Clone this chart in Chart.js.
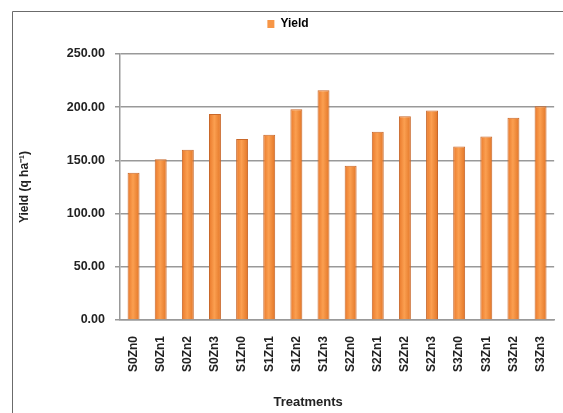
<!DOCTYPE html>
<html>
<head>
<meta charset="utf-8">
<script src="https://cdn.jsdelivr.net/npm/chart.js@4.4.1/dist/chart.umd.min.js"></script>
<style>
  html, body { margin: 0; padding: 0; background: #fff; }
  canvas { display: block; }
</style>
</head>
<body>
<canvas id="yieldChart" width="563" height="413"></canvas>
<script>
var treatments = ["S0Zn0", "S0Zn1", "S0Zn2", "S0Zn3", "S1Zn0", "S1Zn1", "S1Zn2", "S1Zn3",
                  "S2Zn0", "S2Zn1", "S2Zn2", "S2Zn3", "S3Zn0", "S3Zn1", "S3Zn2", "S3Zn3"];
var yieldValues = [138.5, 151, 160, 193.5, 170, 174, 198, 216,
                   145, 177, 191.5, 197, 163, 172.5, 190, 201];
var yTicks = [0, 50, 100, 150, 200, 250];

Chart.defaults.font.family = "'Liberation Sans', Arial, sans-serif";
Chart.defaults.font.weight = "bold";
Chart.defaults.color = "#222";

// gray frame round the whole chart (only top and left show in the crop)
var framePlugin = {
  id: "frame",
  beforeDraw: function (chart) {
    var ctx = chart.ctx;
    ctx.save();
    ctx.strokeStyle = "#6b6b6b";
    ctx.lineWidth = 1;
    ctx.beginPath();
    ctx.moveTo(12.5, 413);
    ctx.lineTo(12.5, 11.5);
    ctx.lineTo(563, 11.5);
    ctx.stroke();
    ctx.restore();
  }
};

// make room under the legend so the plot starts at 250 line
var legendRoom = {
  id: "legendRoom",
  beforeInit: function (chart) {
    var fit = chart.legend.fit;
    chart.legend.fit = function () {
      fit.bind(chart.legend)();
      this.height = 46;
    };
  }
};

function barFill(context) {
  var chart = context.chart;
  if (!chart.chartArea || context.dataIndex === undefined) return "#F79646";
  var x = chart.scales.x.getPixelForValue(context.dataIndex);
  var g = chart.ctx.createLinearGradient(x - 6, 0, x + 6, 0);
  g.addColorStop(0, "#E9782A");
  g.addColorStop(0.45, "#FB9F50");
  g.addColorStop(1, "#E27526");
  return g;
}

new Chart(document.getElementById("yieldChart"), {
  type: "bar",
  data: {
    labels: treatments,
    datasets: [{
      label: "Yield",
      data: yieldValues,
      backgroundColor: barFill,
      borderColor: "#C9682A",
      borderWidth: 1,
      categoryPercentage: 1,
      barPercentage: 0.44
    }]
  },
  plugins: [framePlugin, legendRoom],
  options: {
    responsive: false,
    animation: false,
    layout: { padding: { top: 8, left: 14, right: 1, bottom: 0 } },
    plugins: {
      legend: {
        position: "top",
        labels: {
          boxWidth: 7,
          boxHeight: 8,
          font: { size: 12, weight: "bold" },
          color: "#222",
          generateLabels: function (chart) {
            return [{ text: "Yield", fillStyle: "#F79646", strokeStyle: "#F79646", lineWidth: 0, datasetIndex: 0 }];
          }
        }
      },
      tooltip: { enabled: false }
    },
    scales: {
      x: {
        grid: { display: false },
        border: { color: "#999", width: 1.5 },
        ticks: {
          minRotation: 90,
          maxRotation: 90,
          autoSkip: false,
          padding: 8,
          font: { size: 12, weight: "bold" }
        },
        title: {
          display: true,
          text: "Treatments                ",
          font: { size: 13, weight: "bold" },
          padding: { top: 0, bottom: 3 }
        },
        afterFit: function (scale) { scale.height = 93; }
      },
      y: {
        min: 0,
        max: 250,
        afterBuildTicks: function (scale) {
          scale.ticks = yTicks.map(function (v) { return { value: v }; });
        },
        grid: {
          color: "#999",
          lineWidth: 1.5,
          tickLength: 5,
          tickColor: "#999"
        },
        border: { color: "#999", width: 1.5 },
        ticks: {
          padding: 10,
          font: { size: 12.5, weight: "bold" },
          callback: function (v) { return Number(v).toFixed(2); }
        },
        title: {
          display: true,
          text: "Yield (q ha\u207B\u00B9)",
          font: { size: 12, weight: "bold" },
          padding: { top: 3, bottom: 0 }
        },
        afterFit: function (scale) { scale.width = 106; }
      }
    }
  }
});
</script>
</body>
</html>
